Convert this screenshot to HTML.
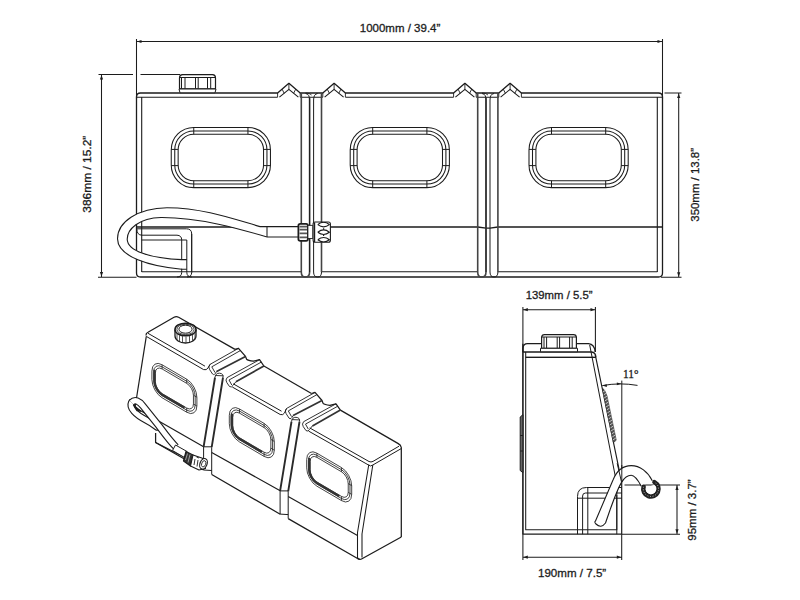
<!DOCTYPE html><html><head><meta charset="utf-8"><style>html,body{margin:0;padding:0;background:#fff;width:800px;height:600px;overflow:hidden}svg{display:block}text{font-family:"Liberation Sans",sans-serif;fill:#1c1c1c;stroke:#1c1c1c;stroke-width:0.3}</style></head><body>
<svg width="800" height="600" viewBox="0 0 800 600">
<g fill="none" stroke="#1c1c1c" stroke-linecap="butt" stroke-linejoin="round">
<path d="M136.5,273 V97 Q136.5,93 140.5,93 L277.6,93 L288.90000000000003,83.3 L300.20000000000005,93 L322.8,93 L334.1,83.3 L345.40000000000003,93 L453.6,93 L464.90000000000003,83.3 L476.20000000000005,93 L498.8,93 L510.1,83.3 L521.4,93 H658.5 Q662.5,93 662.5,97 V273 Q662.5,277 658.5,277 H140.5 Q136.5,277 136.5,273 Z" stroke-width="1.3"/>
<path d="M141.7,272 V97.2 M136.5,97.2 H277.6 M279.40000000000003,97.2 L288.90000000000003,89.3 L298.40000000000003,97.2 M300.20000000000005,97.2 H322.8 M324.6,97.2 L334.1,89.3 L343.6,97.2 M345.40000000000003,97.2 H453.6 M455.40000000000003,97.2 L464.90000000000003,89.3 L474.40000000000003,97.2 M476.20000000000005,97.2 H498.8 M500.6,97.2 L510.1,89.3 L519.6,97.2 M521.4,97.2 H662.5 M657.3,97.2 V272" stroke-width="1.1"/>
<path d="M277.6,93 V97.2 M288.90000000000003,83.3 V89.3 M300.20000000000005,93 V97.2 M282.1,89.2 L284.20000000000005,93.3 M295.70000000000005,89.2 L293.6,93.3" stroke-width="0.9"/>
<path d="M322.8,93 V97.2 M334.1,83.3 V89.3 M345.40000000000003,93 V97.2 M327.3,89.2 L329.40000000000003,93.3 M340.90000000000003,89.2 L338.8,93.3" stroke-width="0.9"/>
<path d="M453.6,93 V97.2 M464.90000000000003,83.3 V89.3 M476.20000000000005,93 V97.2 M458.1,89.2 L460.20000000000005,93.3 M471.70000000000005,89.2 L469.6,93.3" stroke-width="0.9"/>
<path d="M498.8,93 V97.2 M510.1,83.3 V89.3 M521.4,93 V97.2 M503.3,89.2 L505.40000000000003,93.3 M516.9,89.2 L514.8,93.3" stroke-width="0.9"/>
<path d="M141.7,271.8 H301.3 M321.5,271.8 H477.7 M497.9,271.8 H657.3" stroke-width="1.1"/>
<path d="M136.5,227 H301.3 L309.6,228.2 H313.6 L321.5,227 H477.7 L486,228.2 H490 L497.9,227 H662.5" stroke-width="1.3"/>
<path d="M301.3,93 V272 Q301.3,277 305.3,277 Q309.6,277 309.6,272 V97" stroke-width="1.6" stroke="#444"/>
<path d="M309.6,272 V100 Q309.6,94 305.6,93.5" stroke-width="1"/>
<path d="M313.6,272 V100 Q313.6,94 317.6,93.5 M313.6,272 Q313.6,277 317.6,277 Q321.5,277 321.5,272" stroke-width="1"/>
<path d="M321.5,93 V272" stroke-width="1.6" stroke="#444"/>
<path d="M305.6,93 Q309.6,93 311.6,95" stroke-width="0.8"/>
<path d="M477.70000000000005,93 V272 Q477.70000000000005,277 481.70000000000005,277 Q486.0,277 486.0,272 V97" stroke-width="1.6" stroke="#444"/>
<path d="M486.0,272 V100 Q486.0,94 482.0,93.5" stroke-width="1"/>
<path d="M490.0,272 V100 Q490.0,94 494.0,93.5 M490.0,272 Q490.0,277 494.0,277 Q497.9,277 497.9,272" stroke-width="1"/>
<path d="M497.9,93 V272" stroke-width="1.6" stroke="#444"/>
<path d="M482.0,93 Q486.0,93 488.0,95" stroke-width="0.8"/>
<rect x="171.25" y="127.4" width="99.2" height="60.2" rx="22.5" ry="22.5" stroke-width="1.05"/>
<rect x="174.75" y="130.9" width="92.2" height="53.2" rx="19.0" ry="19.0" stroke-width="1.05"/>
<rect x="178.15" y="134.3" width="85.4" height="46.400000000000006" rx="15.6" ry="15.6" stroke-width="1.05"/>
<path d="M193.75,127.4 v6.9 M247.95,127.4 v6.9 M193.75,187.60000000000002 v-6.9 M247.95,187.60000000000002 v-6.9 M171.25,149.4 h6.9 M171.25,165.60000000000002 h6.9 M270.45,149.4 h-6.9 M270.45,165.60000000000002 h-6.9" stroke-width="1"/>
<rect x="350.2" y="127.4" width="99.2" height="60.2" rx="22.5" ry="22.5" stroke-width="1.05"/>
<rect x="353.7" y="130.9" width="92.2" height="53.2" rx="19.0" ry="19.0" stroke-width="1.05"/>
<rect x="357.09999999999997" y="134.3" width="85.4" height="46.400000000000006" rx="15.6" ry="15.6" stroke-width="1.05"/>
<path d="M372.7,127.4 v6.9 M426.9,127.4 v6.9 M372.7,187.60000000000002 v-6.9 M426.9,187.60000000000002 v-6.9 M350.2,149.4 h6.9 M350.2,165.60000000000002 h6.9 M449.4,149.4 h-6.9 M449.4,165.60000000000002 h-6.9" stroke-width="1"/>
<rect x="529.0" y="127.4" width="99.2" height="60.2" rx="22.5" ry="22.5" stroke-width="1.05"/>
<rect x="532.5" y="130.9" width="92.2" height="53.2" rx="19.0" ry="19.0" stroke-width="1.05"/>
<rect x="535.9" y="134.3" width="85.4" height="46.400000000000006" rx="15.6" ry="15.6" stroke-width="1.05"/>
<path d="M551.5,127.4 v6.9 M605.7,127.4 v6.9 M551.5,187.60000000000002 v-6.9 M605.7,187.60000000000002 v-6.9 M529.0,149.4 h6.9 M529.0,165.60000000000002 h6.9 M628.2,149.4 h-6.9 M628.2,165.60000000000002 h-6.9" stroke-width="1"/>
<path d="M179.5,88.8 V78 Q179.5,74.8 182.5,74.6 H212.5 Q215.5,74.8 215.5,78 V88.8 Z" stroke-width="1.2" fill="#fff"/>
<path d="M179,89 H216 L215,92.8 H180 Z" stroke-width="1" fill="#fff"/>
<path d="M181.5,77 V88.5 M185,77 V88.5 M195.5,77 V88.5 M198.2,77 V88.5 M207.5,77 V88.5 M210.7,77 V88.5 M180,77.5 H215" stroke-width="1"/>
<path d="M136.5,228.8 H186.5 Q191.7,228.8 191.7,234 V272.5 Q191.5,277 187,277" stroke-width="1"/>
<path d="M136.7,228.8 Q137,235.2 142,235.2 H177 Q181.7,235.4 181.7,240 V272.5 Q181.5,277 177,277" stroke-width="1"/>
<path d="M141.7,240 H186.8" stroke-width="1"/>
<path d="M298,226.6 H260 C235,219.5 205,208 167,207.7 C138,208 117.5,222 117.5,238.8 C117.8,257 150,266.5 186.8,269.2 V259.6 C150,258.3 127.5,251 127.2,239.2 C127.2,229 139,218 161,217.5 C200,217.3 240,229 267,237 H298 Z" fill="#fff" stroke="none"/>
<path d="M260,226.6 C235,219.5 205,208 167,207.7 C138,208 117.5,222 117.5,238.8 C117.8,257 150,266.5 181.7,269.2 H186.8" stroke-width="1.1"/>
<path d="M267,237 C240,229 200,217.3 161,217.5 C139,218 127.2,229 127.2,239.2 C127.5,251 150,258.3 181.7,259.6 H186.8" stroke-width="1.1"/>
<path d="M260,226.6 H298.4 M267,237 H298.4 M267,226.6 V237" stroke-width="1.05"/>
<path d="M186.8,240 V272.5 Q187,277 191.7,277 M191.7,234 V272.5" stroke-width="1"/>
<rect x="298.4" y="223.9" width="9.5" height="16.9" rx="1.8" fill="#fff" stroke-width="1.8"/>
<path d="M299.5,226.6 H307 M299.5,229.6 H307 M299.5,233.4 H307 M299.5,237.4 H307" stroke-width="1.6" stroke="#555"/>
<rect x="307.9" y="225.4" width="5" height="13.1" fill="#fff" stroke-width="0.9"/>
<rect x="313.1" y="222" width="17.3" height="20.3" rx="2" fill="#fff" stroke-width="1.1"/>
<clipPath id="nutclip"><rect x="313.1" y="222" width="17.3" height="20.3"/></clipPath>
<path d="M317.8,224.6 Q323.6,220.0 329.4,224.6 Q323.6,229.2 317.8,224.6 M317.8,232.2 Q323.6,227.6 329.4,232.2 Q323.6,236.79999999999998 317.8,232.2 M317.8,239.8 Q323.6,235.20000000000002 329.4,239.8 Q323.6,244.4 317.8,239.8 " stroke-width="1.1" clip-path="url(#nutclip)"/>
<path d="M314.6,222.5 V242 M323.6,228.3 V229.8 M323.6,234.6 V236" stroke-width="1.2"/>
<path d="M136.5,39 V99 M662.5,39 V99 M136.5,41.5 H662.5" stroke-width="1.05"/>
<path d="M137.00,41.50 L141.50,39.90 L141.50,43.10 Z" fill="#1c1c1c" stroke="none"/>
<path d="M662.00,41.50 L657.50,39.90 L657.50,43.10 Z" fill="#1c1c1c" stroke="none"/>
<path d="M98.5,74.4 H133 M140.5,74.4 H180 M101.5,74.4 V277 M98,277.2 H136.5" stroke-width="1.05"/>
<path d="M101.50,75.00 L99.90,79.50 L103.10,79.50 Z" fill="#1c1c1c" stroke="none"/>
<path d="M101.50,276.50 L99.90,272.00 L103.10,272.00 Z" fill="#1c1c1c" stroke="none"/>
<path d="M664.5,93 H681.5 M661,277.2 H681.5 M678.7,93 V277.2" stroke-width="1.05"/>
<path d="M678.70,93.50 L677.10,98.00 L680.30,98.00 Z" fill="#1c1c1c" stroke="none"/>
<path d="M678.70,276.70 L677.10,272.20 L680.30,272.20 Z" fill="#1c1c1c" stroke="none"/>
<path d="M146,335.5 Q145.8,333.2 148,332.2 L174,317.3 Q176.2,316 178.6,317.2 L235,349.4" stroke-width="1.25"/>
<path d="M148,333.3 L205,366.2 M146.3,336.4 L203.6,369.6 M203.6,369.6 Q206.5,370.5 208,368 L210,364.4" stroke-width="1"/>
<path d="M235.00,349.40 L238.50,348.30 L245.50,356.40 L246.60,359.30 Q248.00,360.70 253.40,361.20 L259.50,359.70 L263.90,366.00" stroke-width="1.25"/>
<path d="M238.50,348.30 L210.00,364.40 M240.30,350.60 L211.80,366.80 M259.50,359.70 L227.10,377.60 M261.30,362.10 L229.00,380.00" stroke-width="0.9"/>
<path d="M245.50,356.40 L216.60,371.40 M263.90,366.00 L235.90,381.80" stroke-width="1.7" stroke="#333"/>
<path d="M210.00,364.40 Q207.80,366.80 209.60,369.50 L212.50,374.00 Q214.50,376.00 216.60,371.40 M211.80,366.80 L215.00,372.50" stroke-width="0.9"/>
<path d="M227.10,377.60 Q225.00,380.00 226.80,382.60 L229.50,386.50 Q231.50,388.00 233.20,385.20 L235.90,381.80 M229.00,380.00 L231.80,385.00" stroke-width="0.9"/>
<path d="M215.00,377.50 Q215.50,373.00 219.50,373.20 Q223.80,373.60 223.00,377.50 M215.30,375.50 L223.30,375.80" stroke-width="0.9"/>
<path d="M311.50,393.50 L315.00,392.40 L322.00,400.50 L323.10,403.40 Q324.50,404.80 329.90,405.30 L336.00,403.80 L340.40,410.10" stroke-width="1.25"/>
<path d="M315.00,392.40 L286.50,408.50 M316.80,394.70 L288.30,410.90 M336.00,403.80 L303.60,421.70 M337.80,406.20 L305.50,424.10" stroke-width="0.9"/>
<path d="M322.00,400.50 L293.10,415.50 M340.40,410.10 L312.40,425.90" stroke-width="1.7" stroke="#333"/>
<path d="M286.50,408.50 Q284.30,410.90 286.10,413.60 L289.00,418.10 Q291.00,420.10 293.10,415.50 M288.30,410.90 L291.50,416.60" stroke-width="0.9"/>
<path d="M303.60,421.70 Q301.50,424.10 303.30,426.70 L306.00,430.60 Q308.00,432.10 309.70,429.30 L312.40,425.90 M305.50,424.10 L308.30,429.10" stroke-width="0.9"/>
<path d="M291.50,421.60 Q292.00,417.10 296.00,417.30 Q300.30,417.70 299.50,421.60 M291.80,419.60 L299.80,419.90" stroke-width="0.9"/>
<path d="M263.9,366 L311.5,393.5" stroke-width="1.25"/>
<path d="M233.2,383.8 L281.5,411.2 M232.3,387 L280.2,414.5 M280.2,414.5 Q283,415.5 284.5,413 L286.5,408.5" stroke-width="1"/>
<path d="M340.4,410.1 L398.3,443.6 Q400.8,445 401.3,447.5 V537" stroke-width="1.25"/>
<path d="M309.7,427.9 L369,461.5 Q371,462.5 373,461.4 L399,446.2 M308.6,431.1 L368.3,464.9 M372.8,465 L401.2,448.6 M368.3,464.9 Q370.5,467 372.8,465" stroke-width="1"/>
<path d="M146.3,336.4 L135,407.5" stroke-width="1.2"/>
<path d="M135,407.5 L203.6,446.8" stroke-width="1.15"/>
<path d="M215.00,377.50 L203.60,446.80 M223.00,377.50 L211.70,447.20" stroke-width="1.9" stroke="#2a2a2a"/>
<path d="M203.60,446.80 H211.70 M203.60,446.80 V470.00 M211.70,447.20 V474.50 M203.60,470.00 L211.70,470.50" stroke-width="1"/>
<path d="M291.50,421.60 L280.10,490.90 M299.50,421.60 L288.20,491.30" stroke-width="1.9" stroke="#2a2a2a"/>
<path d="M280.10,490.90 H288.20 M280.10,490.90 V514.10 M288.20,491.30 V518.60 M280.10,514.10 L288.20,514.60" stroke-width="1"/>
<path d="M211.7,452.5 L280.2,490.8 M288.2,496.6 L357.5,535.5" stroke-width="1.15"/>
<path d="M368.8,464.5 L357.5,532.5 V557.5 Q358,559.5 360,559.3 M372.8,465 L362,534 V557.5" stroke-width="1.05"/>
<path d="M155.6,433 V442.5 L203.6,470 M211.7,474.5 L280.2,514.2 M288.2,518.6 L358,558.8 Q360,560 362,558.7 L401.3,537" stroke-width="1.25"/>
<rect transform="matrix(0.4536,0.266,0,0.548,151.90,358.80)" x="0" y="0" width="99.2" height="60.2" rx="22.5" ry="22.5" vector-effect="non-scaling-stroke" stroke-width="0.85" stroke="#222"/>
<rect transform="matrix(0.4536,0.266,0,0.548,151.90,358.80)" x="3.8" y="3.8" width="91.60000000000001" height="52.6" rx="18.7" ry="18.7" vector-effect="non-scaling-stroke" stroke-width="0.85" stroke="#222"/>
<rect transform="matrix(0.4536,0.266,0,0.548,151.90,358.80)" x="7.6" y="7.6" width="84.0" height="45.0" rx="14.9" ry="14.9" vector-effect="non-scaling-stroke" stroke-width="0.85" stroke="#222"/>
<path transform="matrix(0.4536,0.266,0,0.548,151.90,358.80)" d="M22.5,0 V7.6 M76.7,0 V7.6 M99.2,22 H91.6 M99.2,38 H91.6 M76.7,60.2 V52.6" vector-effect="non-scaling-stroke" stroke-width="0.8"/>
<path transform="matrix(0.4536,0.266,0,0.548,151.90,358.80)" d="M5.7,17 V37.7 A16.8,16.8 0 0 0 22.5,54.5 H72" vector-effect="non-scaling-stroke" stroke-width="2.3" stroke="#333"/>
<rect transform="matrix(0.4536,0.266,0,0.548,229.30,403.00)" x="0" y="0" width="99.2" height="60.2" rx="22.5" ry="22.5" vector-effect="non-scaling-stroke" stroke-width="0.85" stroke="#222"/>
<rect transform="matrix(0.4536,0.266,0,0.548,229.30,403.00)" x="3.8" y="3.8" width="91.60000000000001" height="52.6" rx="18.7" ry="18.7" vector-effect="non-scaling-stroke" stroke-width="0.85" stroke="#222"/>
<rect transform="matrix(0.4536,0.266,0,0.548,229.30,403.00)" x="7.6" y="7.6" width="84.0" height="45.0" rx="14.9" ry="14.9" vector-effect="non-scaling-stroke" stroke-width="0.85" stroke="#222"/>
<path transform="matrix(0.4536,0.266,0,0.548,229.30,403.00)" d="M22.5,0 V7.6 M76.7,0 V7.6 M99.2,22 H91.6 M99.2,38 H91.6 M76.7,60.2 V52.6" vector-effect="non-scaling-stroke" stroke-width="0.8"/>
<path transform="matrix(0.4536,0.266,0,0.548,229.30,403.00)" d="M5.7,17 V37.7 A16.8,16.8 0 0 0 22.5,54.5 H72" vector-effect="non-scaling-stroke" stroke-width="2.3" stroke="#333"/>
<rect transform="matrix(0.4536,0.266,0,0.548,306.70,447.20)" x="0" y="0" width="99.2" height="60.2" rx="22.5" ry="22.5" vector-effect="non-scaling-stroke" stroke-width="0.85" stroke="#222"/>
<rect transform="matrix(0.4536,0.266,0,0.548,306.70,447.20)" x="3.8" y="3.8" width="91.60000000000001" height="52.6" rx="18.7" ry="18.7" vector-effect="non-scaling-stroke" stroke-width="0.85" stroke="#222"/>
<rect transform="matrix(0.4536,0.266,0,0.548,306.70,447.20)" x="7.6" y="7.6" width="84.0" height="45.0" rx="14.9" ry="14.9" vector-effect="non-scaling-stroke" stroke-width="0.85" stroke="#222"/>
<path transform="matrix(0.4536,0.266,0,0.548,306.70,447.20)" d="M22.5,0 V7.6 M76.7,0 V7.6 M99.2,22 H91.6 M99.2,38 H91.6 M76.7,60.2 V52.6" vector-effect="non-scaling-stroke" stroke-width="0.8"/>
<path transform="matrix(0.4536,0.266,0,0.548,306.70,447.20)" d="M5.7,17 V37.7 A16.8,16.8 0 0 0 22.5,54.5 H72" vector-effect="non-scaling-stroke" stroke-width="2.3" stroke="#333"/>
<path d="M175,329.5 V336 A10.5,7 0 0 0 196,336 V329.5" stroke-width="1.3" fill="#fff"/>
<ellipse cx="185.5" cy="329.5" rx="10.5" ry="6.3" stroke-width="1.6" fill="#fff"/>
<ellipse cx="185.5" cy="329.4" rx="8.6" ry="5.1" stroke-width="0.8"/>
<ellipse cx="185.5" cy="329.2" rx="6.6" ry="4" stroke-width="1"/>
<path d="M177,333.5 V339.5 M179.5,335 V341 M182.5,336 V342 M186,336.5 V342.8 M189.5,336 V342 M192.5,335 V341 M195,333.5 V339.5" stroke-width="0.9" stroke="#444"/>
<path d="M131.5,402.5 C129,408 136,415 146,420 C150,422 153,424 157,427" stroke="#1c1c1c" stroke-width="7.2" stroke-linecap="round"/>
<path d="M131.5,402.5 C129,408 136,415 146,420 C150,422 153,424 157,427" stroke="#fff" stroke-width="5.0" stroke-linecap="round"/>
<path d="M131.5,402.5 C135,399 139,401 143,406 L159,426 C165,434 170,441 176,447" stroke="#1c1c1c" stroke-width="7.4"/>
<path d="M131.5,402.5 C135,399 139,401 143,406 L159,426 C165,434 170,441 176,447" stroke="#fff" stroke-width="5.2"/>
<path d="M133.5,405 L140.5,411.2 L137,410.6 Z" stroke-width="1.3" fill="#1c1c1c"/>
<path d="M155.6,442.5 L186,458" stroke-width="1.2"/>
<path d="M175.5,445 L187,451.5 L184.5,457.5 L172.5,450.5 Z" fill="#fff" stroke-width="1"/>
<path d="M186,451.5 L193,455 L190.5,466 L183.5,461 Z" fill="#333" stroke-width="1.2"/>
<path d="M187.5,453.5 L185.5,460 M190,454.5 L188,462.5" stroke="#bbb" stroke-width="0.8"/>
<path d="M193,455 L202.5,458.3 L205.5,468.5 L199,470 L190.5,466 Z" fill="#fff" stroke-width="1.1"/>
<path d="M195,459 L194,465 M198,460 L197,466.5 M196.5,457 L199,458" stroke="#333" stroke-width="1"/>
<ellipse cx="203.5" cy="463.8" rx="3.5" ry="5.5" transform="rotate(22 203.5 463.8)" fill="#fff" stroke-width="1.2"/>
<ellipse cx="203.7" cy="463.8" rx="2" ry="3.3" transform="rotate(22 203.7 463.8)" stroke-width="0.8"/>
<path d="M522.9,307 V534.2 M595.4,307 V352 M522.9,309.7 H595.4" stroke-width="1.05"/>
<path d="M523.30,309.70 L527.80,308.10 L527.80,311.30 Z" fill="#1c1c1c" stroke="none"/>
<path d="M595.00,309.70 L590.50,308.10 L590.50,311.30 Z" fill="#1c1c1c" stroke="none"/>
<path d="M522.9,534.2 V560 M621.7,534.2 V560 M522.9,557.2 H621.7" stroke-width="1.05"/>
<path d="M523.30,557.20 L527.80,555.60 L527.80,558.80 Z" fill="#1c1c1c" stroke="none"/>
<path d="M621.30,557.20 L616.80,555.60 L616.80,558.80 Z" fill="#1c1c1c" stroke="none"/>
<path d="M624.5,484.9 H680 M621.7,534.2 H680 M677,484.9 V534.2" stroke-width="1.05"/>
<path d="M677.00,485.40 L675.40,489.90 L678.60,489.90 Z" fill="#1c1c1c" stroke="none"/>
<path d="M677.00,533.70 L675.40,529.20 L678.60,529.20 Z" fill="#1c1c1c" stroke="none"/>
<path d="M621.8,380.6 V482 M602.3,385.6 Q620,382.3 637.5,385.4" stroke-width="1"/>
<path d="M602.30,385.60 L606.80,384.20 L606.80,387.00 Z" fill="#1c1c1c" stroke="none"/>
<path d="M621.30,383.80 L616.80,382.40 L616.80,385.20 Z" fill="#1c1c1c" stroke="none"/>
<path d="M522.9,352 V348.5 Q523.3,343.7 527.5,343.7 H541.5 M576.3,343.7 H588.5 Q594.5,344.2 595.2,352" stroke-width="1.3"/>
<path d="M522.9,352 H591.5 Q595.8,352.3 595.8,357.3 M525.7,357.3 H595.8" stroke-width="1.3"/>
<path d="M525.7,357.3 H595.8" stroke-width="0.9"/>
<path d="M541.6,348.3 V337.5 Q541.8,334.7 544.5,334.7 H573.5 Q576.3,334.7 576.4,337.5 V348.3 Z" stroke-width="1.2" fill="#fff"/>
<path d="M540.5,348.3 H577.5 V351.8 H540.5 Z" stroke-width="1" fill="#fff"/>
<path d="M541.6,337 H576.4 M544,337 V348 M546.6,337 V348 M557.2,337 V348 M559.6,337 V348 M569.6,337 V348 M572.2,337 V348" stroke-width="1"/>
<path d="M522.9,343.7 V534.2 H621.7 V482 L595.3,355" stroke-width="1.2"/>
<path d="M525.7,352 V529.7 H616.8 V484 L589.7,345" stroke-width="1.05"/>
<path d="M520.2,417 L522.9,414.7 V472.7 L520.2,470.5 Z M520.3,435.5 H522.9 M520.3,451 H522.9" stroke-width="1" fill="#666"/>
<path d="M602.41,388 Q605.11,390 607.06,396 L616.24,440 L614.45,442 L613.25,442 Z" fill="#555" stroke="#333" stroke-width="0.6"/>
<path d="M602.93,392 L605.92,390" stroke="#ddd" stroke-width="0.8"/>
<path d="M603.55,395 L606.54,393" stroke="#ddd" stroke-width="0.8"/>
<path d="M604.17,398 L607.16,396" stroke="#ddd" stroke-width="0.8"/>
<path d="M604.79,401 L607.78,399" stroke="#ddd" stroke-width="0.8"/>
<path d="M605.41,404 L608.40,402" stroke="#ddd" stroke-width="0.8"/>
<path d="M606.03,407 L609.01,405" stroke="#ddd" stroke-width="0.8"/>
<path d="M606.65,410 L609.63,408" stroke="#ddd" stroke-width="0.8"/>
<path d="M607.27,413 L610.25,411" stroke="#ddd" stroke-width="0.8"/>
<path d="M607.88,416 L610.87,414" stroke="#ddd" stroke-width="0.8"/>
<path d="M608.50,419 L611.49,417" stroke="#ddd" stroke-width="0.8"/>
<path d="M609.12,422 L612.11,420" stroke="#ddd" stroke-width="0.8"/>
<path d="M609.74,425 L612.73,423" stroke="#ddd" stroke-width="0.8"/>
<path d="M610.36,428 L613.35,426" stroke="#ddd" stroke-width="0.8"/>
<path d="M610.98,431 L613.97,429" stroke="#ddd" stroke-width="0.8"/>
<path d="M611.60,434 L614.59,432" stroke="#ddd" stroke-width="0.8"/>
<path d="M612.22,437 L615.20,435" stroke="#ddd" stroke-width="0.8"/>
<path d="M612.84,440 L615.82,438" stroke="#ddd" stroke-width="0.8"/>
<path d="M577.5,534.2 V496.5 Q577.5,487.5 586.5,487.5 H621.7 M582.6,534.2 V496 Q582.6,493 585.6,493 H621.7 M577.5,498.2 H621.7 M587.8,487.5 V534.2 M616.8,495 V534.2" stroke-width="1"/>
<path d="M595.5,521 L613,480 C617,470 624,465.6 631.2,465.6 C640,465.6 648,472 652.3,480.7 L641.3,486.2 C638,480 635,475.2 631.2,475.2 C624,475.2 620,482 610,510 L605.5,523 Q601,529 596,524 Q594,522 595.5,521 Z" fill="#fff" stroke="none"/>
<path d="M652.3,480.7 C648,472 640,465.6 631.2,465.6 C624,465.6 617,470 613,480 L595.5,521 Q594,522 596,524 Q601,529 605.5,523 L610,510 C620,482 624,475.2 631.2,475.2 C635,475.2 638,480 641.3,486.2" stroke-width="1.1"/>
<path d="M621.8,465 V482 M617.2,463.3 L621.5,482" stroke-width="1"/>
<path d="M643.6,486.8 A7.6,7.6 0 1 0 654.5,482.2" stroke="#222" stroke-width="4.6" stroke-linecap="round"/>
<path d="M643.6,486.8 A7.6,7.6 0 1 0 654.5,482.2" stroke="#ddd" stroke-width="0.9" stroke-dasharray="0.9 1.7"/>
<path d="M646.6,487.5 A4.6,4.6 0 1 0 653.5,485" stroke="#fff" stroke-width="1.2" fill="#fff"/>
</g>
<text x="359.8" y="32" font-size="11.6" textLength="80.5" lengthAdjust="spacingAndGlyphs">1000mm / 39.4”</text>
<text transform="translate(90.5,212.7) rotate(-90)" font-size="11.6" textLength="77" lengthAdjust="spacingAndGlyphs">386mm / 15.2”</text>
<text transform="translate(698.5,221.7) rotate(-90)" font-size="11.6" textLength="73.7" lengthAdjust="spacingAndGlyphs">350mm / 13.8”</text>
<text x="525.7" y="299" font-size="11.6" textLength="66.8" lengthAdjust="spacingAndGlyphs">139mm / 5.5”</text>
<text x="538" y="577" font-size="11.6" textLength="68.2" lengthAdjust="spacingAndGlyphs">190mm / 7.5”</text>
<text transform="translate(696.3,540.7) rotate(-90)" font-size="11.6" textLength="61.4" lengthAdjust="spacingAndGlyphs">95mm / 3.7”</text>
<text x="623" y="377.7" font-size="11.8" textLength="15.5" lengthAdjust="spacingAndGlyphs" style="font-family:'Liberation Serif',serif">11°</text>
</svg></body></html>
